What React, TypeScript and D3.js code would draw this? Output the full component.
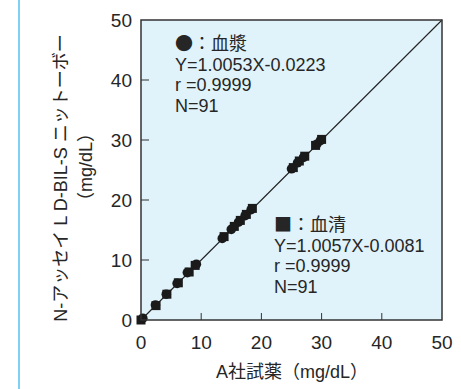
import React from "react";
import * as d3 from "d3";

const xTicks = [0, 10, 20, 30, 40, 50];
const yTicks = [0, 10, 20, 30, 40, 50];
const plasmaX = [0.3, 2.4, 4.2, 6.0, 7.7, 9.2, 13.5, 15.0, 16.2, 17.3, 18.3, 25.0, 26.0, 27.0, 29.2, 29.8];
const plasmaY = [0.3, 2.5, 4.3, 6.1, 7.9, 9.3, 13.6, 15.1, 16.3, 17.4, 18.4, 25.2, 26.2, 27.1, 29.3, 29.9];
const serumX = [0.0, 2.5, 4.3, 6.2, 8.0, 9.0, 13.8, 15.5, 16.5, 17.5, 18.5, 25.3, 26.3, 27.2, 29.0, 30.0];
const serumY = [0.0, 2.4, 4.3, 6.2, 8.0, 9.1, 13.9, 15.6, 16.6, 17.6, 18.6, 25.4, 26.5, 27.3, 29.1, 30.1];
const regLine = [0, 50];
const plasmaLabel = ["●：血漿", "Y=1.0053X-0.0223", "r =0.9999", "N=91"];
const serumLabel = ["■：血清", "Y=1.0057X-0.0081", "r =0.9999", "N=91"];
const xTitle = "A社試薬（mg/dL）";
const yTitle1 = "N-アッセイ L D-BIL-S ニットーボー";
const yTitle2 = "（mg/dL）";

export default function App() {
  const W = 461, H = 389;
  const left = 141, right = 442, top = 20, bottom = 320;
  const x = d3.scaleLinear().domain([0, 50]).range([left, right]);
  const y = d3.scaleLinear().domain([0, 50]).range([bottom, top]);
  const narrow = "'Liberation Sans Narrow', 'Liberation Sans', Arial, sans-serif";
  const sans = "'Liberation Sans', Arial, 'Noto Sans CJK JP', sans-serif";
  const cjk = "'Noto Sans CJK JP', sans-serif";
  const line = d3.line<number>().x((d) => x(d)).y((d) => y(d));
  const ink = "#262626";
  return (
    <svg width={W} height={H} style={{ position: "absolute", left: 0, top: 0, background: "#fff" }}>
      <line x1={19} x2={19} y1={0} y2={H} stroke="#7fd0f4" strokeWidth={2} />
      <rect x={left} y={top} width={right - left} height={bottom - top} fill="#e0f2fa" />
      <path d={line(regLine) || ""} stroke="#222" strokeWidth={1.1} fill="none" />
      {plasmaX.map((v, i) => (
        <circle key={"p" + i} cx={x(v)} cy={y(plasmaY[i])} r={4.8} fill="#1a1a1a" />
      ))}
      {serumX.map((v, i) => (
        <rect key={"s" + i} x={x(v) - 4.5} y={y(serumY[i]) - 4.5} width={9} height={9} fill="#1a1a1a" />
      ))}
      {yTicks.slice(1, -1).map((t) => (
        <line key={"yt" + t} x1={left} x2={left + 8} y1={y(t)} y2={y(t)} stroke="#333" strokeWidth={1} />
      ))}
      {xTicks.slice(1, -1).map((t) => (
        <line key={"xt" + t} x1={x(t)} x2={x(t)} y1={bottom} y2={bottom - 7} stroke="#333" strokeWidth={1} />
      ))}
      <rect x={left} y={top} width={right - left} height={bottom - top} fill="none" stroke="#333" strokeWidth={1.5} />
      {yTicks.map((t) => (
        <text key={"yl" + t} x={132} y={y(t)} dy="0.35em" textAnchor="end" fontFamily={narrow} fontSize={19} fill={ink}>
          {t}
        </text>
      ))}
      {xTicks.map((t) => (
        <text key={"xl" + t} x={x(t)} y={342} dy="0.35em" textAnchor="middle" fontFamily={narrow} fontSize={19} fill={ink}>
          {t}
        </text>
      ))}
      <text x={292} y={372} dy="0.35em" textAnchor="middle" fontFamily={sans} fontSize={18} fill={ink}>
        {xTitle}
      </text>
      <text transform={`translate(61,178) rotate(-90)`} textAnchor="middle" dy="0.35em" fontFamily={sans} fontSize={18} fill={ink}>
        {yTitle1}
      </text>
      <text transform={`translate(86,167) rotate(-90)`} textAnchor="middle" dy="0.35em" fontFamily={sans} fontSize={18} fill={ink}>
        {yTitle2}
      </text>
      {plasmaLabel.map((s, i) => (
        <text key={"pl" + i} x={175} y={44 + i * 20.5} dy="0.35em" fontFamily={i === 0 ? cjk : sans} fontSize={18} fill={ink}>
          {s}
        </text>
      ))}
      {serumLabel.map((s, i) => (
        <text key={"sl" + i} x={274} y={225 + i * 20.5} dy="0.35em" fontFamily={i === 0 ? cjk : sans} fontSize={18} fill={ink}>
          {s}
        </text>
      ))}
    </svg>
  );
}
